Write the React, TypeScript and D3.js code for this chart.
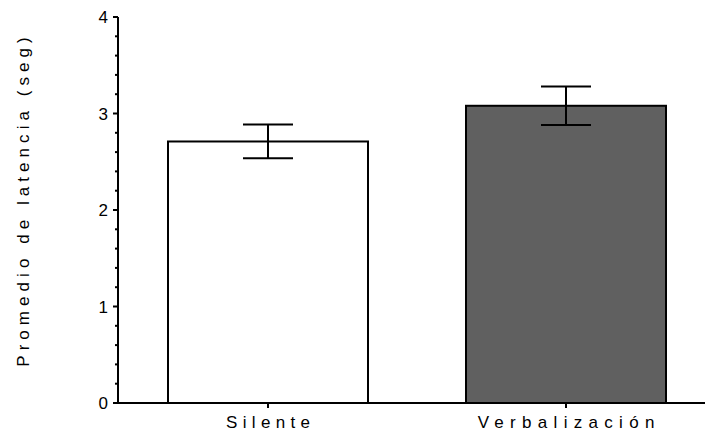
import React from "react";
import * as d3 from "d3";

const categories = ["Silente", "Verbalización"];
const means = [2.71, 3.08];
const errors = [0.175, 0.2];
const fills = ["#ffffff", "#606060"];
const yTicks = [0, 1, 2, 3, 4];
const yTitle = "Promedio de latencia (seg)";
const labelSpacing = [5.3, 6.3];

export default function App() {
  const W = 705, H = 432;
  const left = 118, top = 17, bottom = 403, right = 705;
  const y = d3.scaleLinear().domain([0, 4]).range([bottom, top]);
  const x = d3
    .scaleBand()
    .domain(categories)
    .range([118, 716])
    .paddingInner(98 / 298)
    .paddingOuter(50 / 298);
  const bw = x.bandwidth();
  const minor = d3.range(0, 4.0001, 0.2).filter((v) => Math.abs(v - Math.round(v)) > 1e-6);
  const font = "'Liberation Sans', Arial, sans-serif";
  return (
    <svg width={W} height={H} style={{ position: "absolute", left: 0, top: 0 }} fontFamily={font}>
      {categories.map((c, i) => {
        const x0 = x(c)!;
        const cx = x0 + bw / 2;
        const sp = labelSpacing[i];
        return (
          <g key={c}>
            <rect x={x0} y={y(means[i])} width={bw} height={bottom - y(means[i])} fill={fills[i]} stroke="#000" strokeWidth={2} />
            <line x1={cx} x2={cx} y1={y(means[i] + errors[i])} y2={y(means[i] - errors[i])} stroke="#000" strokeWidth={2} />
            <line x1={cx - 25} x2={cx + 25} y1={y(means[i] + errors[i])} y2={y(means[i] + errors[i])} stroke="#000" strokeWidth={2} />
            <line x1={cx - 25} x2={cx + 25} y1={y(means[i] - errors[i])} y2={y(means[i] - errors[i])} stroke="#000" strokeWidth={2} />
            <line x1={cx} x2={cx} y1={bottom} y2={bottom + 5} stroke="#000" strokeWidth={2} />
            <text x={cx + sp / 2} y={428} textAnchor="middle" fontSize={17} letterSpacing={sp} fill="#000">{c}</text>
          </g>
        );
      })}
      <line x1={left} x2={left} y1={top} y2={bottom} stroke="#000" strokeWidth={2} />
      <line x1={left - 1} x2={right} y1={bottom} y2={bottom} stroke="#000" strokeWidth={2} />
      {yTicks.map((t) => (
        <g key={t}>
          <line x1={left - 5} x2={left} y1={y(t)} y2={y(t)} stroke="#000" strokeWidth={2} />
          <text x={108} y={y(t) + 6} textAnchor="end" fontSize={17} fill="#000">{t}</text>
        </g>
      ))}
      {minor.map((t) => (
        <line key={t} x1={left - 3} x2={left} y1={y(t)} y2={y(t)} stroke="#000" strokeWidth={2} />
      ))}
      <text transform={`translate(29,${197 + 2.5}) rotate(-90)`} textAnchor="middle" fontSize={17} letterSpacing={5.05} fill="#000">{yTitle}</text>
    </svg>
  );
}
